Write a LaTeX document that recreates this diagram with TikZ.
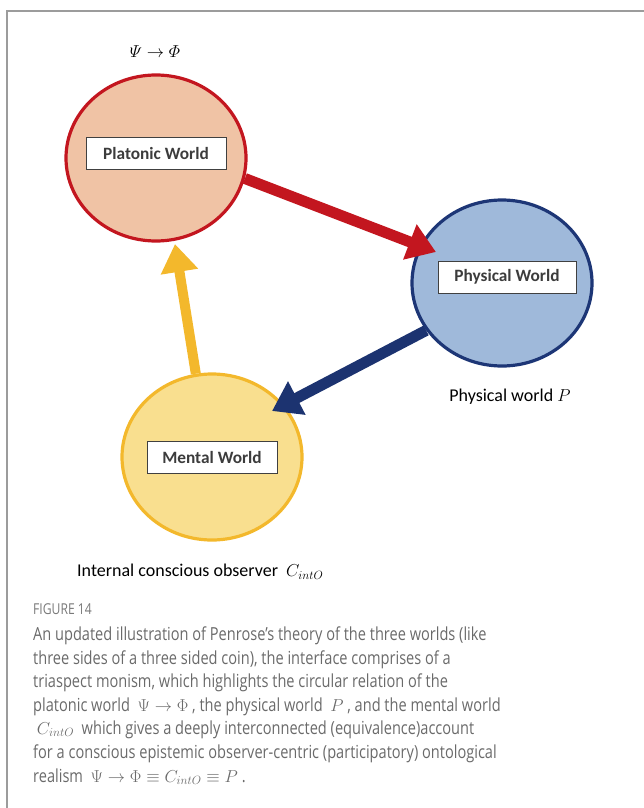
\documentclass[tikz,border=0pt]{standalone}
\usepackage{amsmath}
\usepackage{fontspec}
\setmainfont{Carlito}
\newfontfamily\capfont[FakeStretch=0.81]{Open Sans}
\usetikzlibrary{arrows.meta,shapes.geometric}

\definecolor{platfill}{HTML}{F0C3A5}
\definecolor{platedge}{HTML}{C3161F}
\definecolor{physfill}{HTML}{9FB9DA}
\definecolor{physedge}{HTML}{1D3676}
\definecolor{mentfill}{HTML}{F9DF8F}
\definecolor{mentedge}{HTML}{F3B82C}
\definecolor{captext}{HTML}{6A6A6A}
\definecolor{framegrey}{HTML}{9C9C9C}
\definecolor{boxtext}{HTML}{3C3C3C}

\tikzset{
  world/.style={ellipse, minimum width=180pt, minimum height=166pt, line width=3.2pt},
  namebox/.style={rectangle, draw=black!75, line width=0.9pt, fill=white, text=boxtext,
    font=\bfseries\fontsize{17.3}{18}\selectfont, inner sep=0pt, minimum height=32pt},
  flow/.style={line width=11pt, -{Triangle[width=36pt,length=28pt]}},
  label/.style={font=\fontsize{18}{22}\selectfont, text=black},
  capline/.style={anchor=base west, inner sep=0pt, text=captext,
    font=\capfont\fontsize{18}{22}\selectfont},
}

\begin{document}
\begin{tikzpicture}[x=1pt,y=-1pt]
\useasboundingbox (0,0) rectangle (644,808);

% page frame: top and left rules only
\draw[framegrey, line width=1.8pt] (7,808) -- (7,11) -- (644,11);

% the three worlds
\node[world, fill=platfill, draw=platedge] (plat) at (156,158) {};
\node[world, fill=physfill, draw=physedge] (phys) at (502,283) {};
\node[world, fill=mentfill, draw=mentedge] (ment) at (212,457) {};

\node[namebox, minimum width=140pt] (platbox) at (156,153) {Platonic World};
\node[namebox, minimum width=138pt] (physbox) at (507,277) {Physical World};
\node[namebox, minimum width=130pt] (mentbox) at (212,457.5) {Mental World};

% arrow tips inside the next world
\coordinate (redtip) at (436,252);
\coordinate (bluetip) at (272,411);
\coordinate (yeltip) at (175,244);

\draw[flow, platedge] (plat.-13) -- (redtip);
\draw[flow, physedge!95!black] (phys.212) -- (bluetip);
\draw[flow, mentedge, line width=10pt] (ment.101) -- (yeltip);

% labels
\node[label, font=\fontsize{19}{22}\selectfont] (psiphi) at (155,52) {$\varPsi\rightarrow\varPhi$};
\node[label] (physlab) at (510,397) {Physical world $P$};
\node[label, anchor=west, inner sep=0pt] (mentlab) at (77,572) {Internal conscious observer\ \ $C_{intO}$};

% caption
\node[capline, font=\capfont\fontsize{15}{16}\selectfont, text=captext!90] (fig) at (33,614) {FIGURE 14};
\node[capline] (c1) at (33,640) {An updated illustration of Penrose’s theory of the three worlds (like};
\node[capline] (c2) at (33,664) {three sides of a three sided coin), the interface comprises of a};
\node[capline] (c3) at (33,687) {triaspect monism, which highlights the circular relation of the};
\node[capline] (c4) at (33,711) {platonic world\ \ $\Psi\rightarrow\Phi$\ , the physical world\ \ $P$\ , and the mental world};
\node[capline] (c5) at (33,734) {\ $C_{intO}$\ \ which gives a deeply interconnected (equivalence)account};
\node[capline] (c6) at (33,758) {for a conscious epistemic observer-centric (participatory) ontological};
\node[capline] (c7) at (33,782) {realism\ \ $\Psi\rightarrow\Phi\equiv C_{intO}\equiv P$\ .};
\end{tikzpicture}
\end{document}
